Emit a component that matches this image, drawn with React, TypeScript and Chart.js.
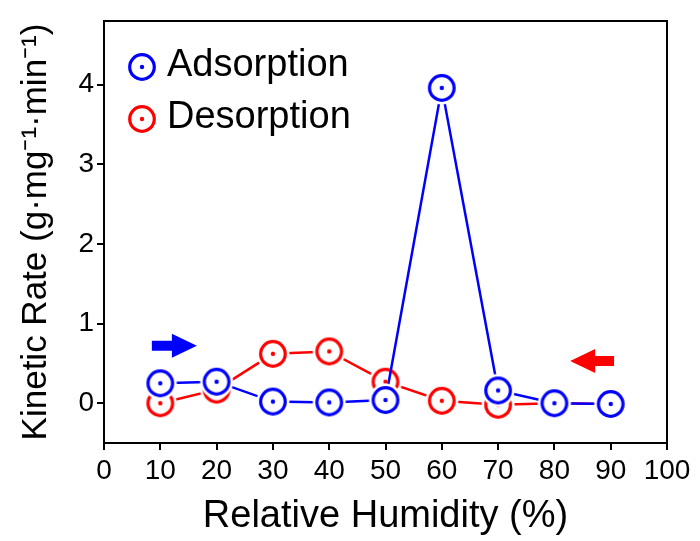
import React, { useEffect, useRef } from "react";
import { Chart, registerables } from "chart.js";

Chart.register(...registerables);

const humidity = [10, 20, 30, 40, 50, 60, 70, 80, 90];
const adsorption = [0.25, 0.27, 0.02, 0.01, 0.04, 3.96, 0.16, 0.0, -0.01];
const desorption = [0.0, 0.17, 0.62, 0.65, 0.27, 0.03, -0.02, 0.0, -0.01];
const xTicks = [0, 10, 20, 30, 40, 50, 60, 70, 80, 90, 100];
const yTicks = [0, 1, 2, 3, 4];
const seriesNames = ["Adsorption", "Desorption"];
// arrows: [fromX, toX, y]
const blueArrow = [8.5, 16.5, 0.72];
const redArrow = [90.6, 82.8, 0.53];

const BLUE = "#0000FF";
const RED = "#FF0000";
const FONT = "'Liberation Sans', Arial, sans-serif";

function makeMarker(color: string): HTMLCanvasElement {
  const c = document.createElement("canvas");
  c.width = 36;
  c.height = 36;
  const ctx = c.getContext("2d")!;
  ctx.fillStyle = "#ffffff";
  ctx.beginPath();
  ctx.arc(18, 18, 16.5, 0, Math.PI * 2);
  ctx.fill();
  ctx.strokeStyle = color;
  ctx.lineWidth = 3.2;
  ctx.beginPath();
  ctx.arc(18, 18, 12.3, 0, Math.PI * 2);
  ctx.stroke();
  ctx.fillStyle = color;
  ctx.beginPath();
  ctx.arc(18, 18, 2.2, 0, Math.PI * 2);
  ctx.fill();
  return c;
}

export default function App() {
  const ref = useRef<HTMLCanvasElement | null>(null);
  useEffect(() => {
    document.body.style.margin = "0";
    const blueMarker = makeMarker(BLUE);
    const redMarker = makeMarker(RED);

    const extras = {
      id: "extras",
      afterDatasetsDraw(chart: any) {
        const { ctx, scales } = chart;
        const xs = scales.x;
        const ys = scales.y;
        const drawArrow = (spec: number[], color: string) => {
          const x0 = xs.getPixelForValue(spec[0]);
          const x1 = xs.getPixelForValue(spec[1]);
          const y = ys.getPixelForValue(spec[2]);
          const dir = Math.sign(x1 - x0);
          const headLen = 25;
          const headHalf = 12;
          const shaftHalf = 5;
          const xb = x1 - dir * headLen;
          ctx.save();
          ctx.fillStyle = color;
          ctx.beginPath();
          ctx.moveTo(x0, y - shaftHalf);
          ctx.lineTo(xb, y - shaftHalf);
          ctx.lineTo(xb, y - headHalf);
          ctx.lineTo(x1, y);
          ctx.lineTo(xb, y + headHalf);
          ctx.lineTo(xb, y + shaftHalf);
          ctx.lineTo(x0, y + shaftHalf);
          ctx.closePath();
          ctx.fill();
          ctx.restore();
        };
        drawArrow(blueArrow, BLUE);
        drawArrow(redArrow, RED);

        // legend
        ctx.save();
        const markers = [blueMarker, redMarker];
        ctx.font = `38px ${FONT}`;
        ctx.fillStyle = "#000";
        ctx.textBaseline = "middle";
        ctx.textAlign = "left";
        seriesNames.forEach((name, i) => {
          const cy = 67 + i * 52;
          ctx.drawImage(markers[i], 142 - 18, cy - 18);
          ctx.fillText(name, 167, cy - 1);
        });
        ctx.restore();
      },
      afterDraw(chart: any) {
        const { ctx, chartArea } = chart;
        ctx.save();
        ctx.strokeStyle = "#000";
        ctx.lineWidth = 2;
        ctx.strokeRect(
          chartArea.left,
          chartArea.top,
          chartArea.right - chartArea.left,
          chartArea.bottom - chartArea.top
        );
        ctx.restore();
      },
    };

    const chart = new Chart(ref.current!, {
      type: "line",
      data: {
        datasets: [
          {
            label: seriesNames[0],
            data: humidity.map((x, i) => ({ x, y: adsorption[i] })),
            borderColor: BLUE,
            borderWidth: 2.5,
            pointStyle: blueMarker as any,
            pointRadius: 14,
            pointHoverRadius: 14,
            tension: 0,
          },
          {
            label: seriesNames[1],
            data: humidity.map((x, i) => ({ x, y: desorption[i] })),
            borderColor: RED,
            borderWidth: 2.5,
            pointStyle: redMarker as any,
            pointRadius: 14,
            pointHoverRadius: 14,
            tension: 0,
          },
        ],
      },
      options: {
        animation: false,
        responsive: false,
        maintainAspectRatio: false,
        events: [],
        layout: { padding: { left: 0, right: 33, top: 21, bottom: 0 } },
        plugins: { legend: { display: false }, tooltip: { enabled: false } },
        scales: {
          x: {
            type: "linear",
            min: 0,
            max: 100,
            afterBuildTicks: (s: any) => {
              s.ticks = xTicks.map((v) => ({ value: v }));
            },
            afterFit: (s: any) => {
              s.height = 98;
            },
            grid: {
              display: true,
              drawOnChartArea: false,
              drawTicks: true,
              tickLength: 7,
              color: "#000",
              lineWidth: 2,
            },
            border: { display: true, color: "#000", width: 2 },
            ticks: {
              color: "#000",
              font: { family: FONT, size: 28 },
              padding: 4,
              maxRotation: 0,
              autoSkip: false,
            },
            title: {
              display: true,
              text: "Relative Humidity (%)",
              color: "#000",
              font: { family: FONT, size: 38, lineHeight: 1 },
              padding: { top: 0, bottom: 5 },
            },
          },
          y: {
            type: "linear",
            min: -0.5,
            max: 4.8,
            afterBuildTicks: (s: any) => {
              s.ticks = yTicks.map((v) => ({ value: v }));
            },
            afterFit: (s: any) => {
              s.width = 104;
            },
            grid: {
              display: true,
              drawOnChartArea: false,
              drawTicks: true,
              tickLength: 7,
              color: "#000",
              lineWidth: 2,
            },
            border: { display: true, color: "#000", width: 2 },
            ticks: {
              color: "#000",
              font: { family: FONT, size: 28 },
              padding: 3,
            },
            title: {
              display: true,
              text: "Kinetic Rate (g·mg⁻¹·min⁻¹)",
              color: "#000",
              font: { family: FONT, size: 35, lineHeight: 1 },
              padding: { top: 19, bottom: 0 },
            },
          },
        },
      },
      plugins: [extras],
    });
    return () => chart.destroy();
  }, []);
  return (
    <div style={{ width: 700, height: 541 }}>
      <canvas ref={ref} width={700} height={541} style={{ display: "block" }} />
    </div>
  );
}
